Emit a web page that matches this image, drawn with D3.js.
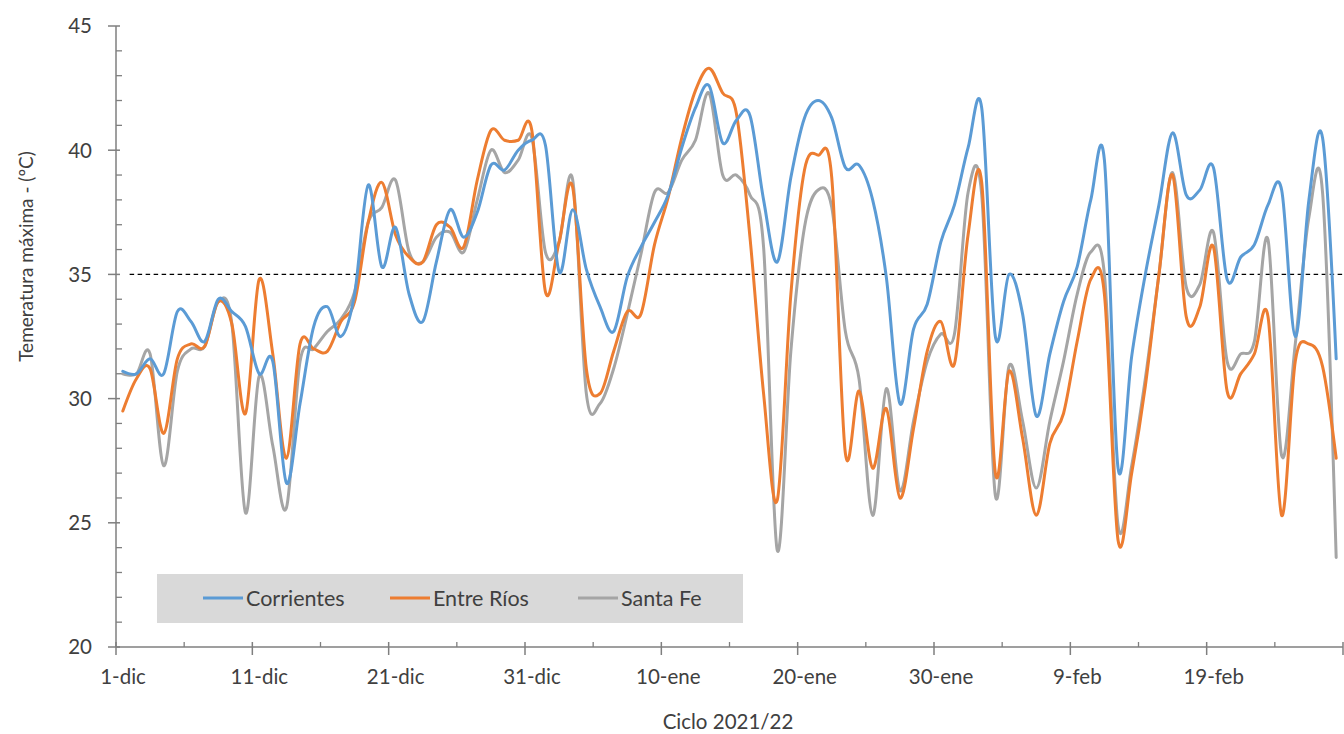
<!DOCTYPE html>
<html><head><meta charset="utf-8">
<script src="https://cdn.jsdelivr.net/npm/d3@7"></script>
<style>
html,body{margin:0;padding:0;background:#fff;}
svg{display:block;font-family:Lato,"Open Sans",sans-serif;}
</style></head>
<body><svg id="chart" width="1344" height="734"></svg>
<script>
// ---- data ----
const tickLabels = ["1-dic","11-dic","21-dic","31-dic","10-ene","20-ene","30-ene","9-feb","19-feb",""];
const seriesNames = ["Corrientes","Entre Ríos","Santa Fe"];
const corrientes = [31.1,31.0,31.6,31.0,33.5,33.1,32.3,34.0,33.5,32.9,31.0,31.5,26.6,29.8,32.9,33.7,32.5,34.2,38.6,35.3,36.9,34.2,33.1,35.5,37.6,36.5,37.5,39.4,39.2,40.0,40.4,40.2,35.1,37.6,35.2,33.7,32.7,34.9,36.1,37.1,38.2,40.1,41.7,42.6,40.3,41.2,41.4,38.0,35.5,38.9,41.3,42.0,41.3,39.3,39.4,38.0,34.9,29.8,32.8,33.8,36.3,37.8,40.1,41.7,32.5,35.0,33.4,29.3,31.8,33.9,35.3,38.0,39.6,27.2,31.7,35.0,37.8,40.7,38.2,38.4,39.3,34.8,35.7,36.2,37.8,38.4,32.5,38.0,40.5,31.6];
const entreRios = [29.5,30.8,31.2,28.6,31.6,32.2,32.1,33.9,33.0,29.4,34.8,31.8,27.6,32.2,32.0,31.9,33.1,33.9,37.1,38.7,36.6,35.7,35.5,37.0,36.9,36.1,38.8,40.8,40.4,40.4,40.8,34.3,36.3,38.5,31.2,30.2,31.9,33.5,33.4,36.2,38.1,40.5,42.4,43.3,42.3,41.5,36.5,30.2,25.9,34.2,39.2,39.8,38.9,27.8,30.3,27.2,29.6,26.0,28.8,31.9,33.1,31.4,36.6,38.7,27.0,31.1,28.4,25.3,28.2,29.4,32.3,34.8,34.2,24.3,27.0,30.5,35.0,39.0,33.3,33.7,36.1,30.3,31.0,31.8,33.3,25.3,31.5,32.2,31.3,27.6];
const santaFe = [31.0,31.0,31.8,27.3,31.1,32.0,32.1,33.9,33.0,25.4,30.9,28.1,25.6,31.5,32.0,32.7,33.2,34.3,37.1,37.7,38.8,35.9,35.5,36.5,36.7,35.9,38.0,40.0,39.1,39.6,40.5,35.9,36.3,38.8,30.2,29.8,31.2,33.4,35.8,38.3,38.3,39.6,40.4,42.3,39.0,39.0,38.2,36.1,23.9,31.9,36.9,38.4,37.7,32.7,30.8,25.3,30.4,26.3,29.1,31.5,32.6,32.6,38.3,38.2,26.1,31.3,29.1,26.4,29.1,31.5,34.2,35.9,35.0,24.9,27.3,30.8,35.0,39.1,34.5,34.6,36.7,31.5,31.8,32.3,36.4,27.7,32.2,37.3,38.3,23.6];
const threshold = 35;
const yTicks = [20,25,30,35,40,45];

// ---- layout ----
const svg = d3.select("#chart");
const pL = 116, pR = 1343, pT = 26, pB = 647;
const x = d3.scaleLinear().domain([0, 90]).range([pL, pR]);
const y = d3.scaleLinear().domain([20, 45]).range([pB, pT]);
const colors = ["#5B9BD5","#ED7D31","#A5A5A5"];
const axisColor = "#7f7f7f";
const textColor = "#404040";

// dashed threshold
svg.append("line")
  .attr("x1", x(1)).attr("x2", x(90))
  .attr("y1", y(threshold)).attr("y2", y(threshold))
  .attr("stroke", "#000").attr("stroke-width", 1.3)
  .attr("stroke-dasharray", "4.5,3.5");

// y axis
const yAxis = svg.append("g");
yAxis.append("line").attr("x1", pL).attr("x2", pL).attr("y1", y(45)).attr("y2", y(20))
  .attr("stroke", axisColor).attr("stroke-width", 1.5);
d3.range(21, 45).filter(v => v % 5 !== 0).forEach(v => {
  yAxis.append("line").attr("x1", pL).attr("x2", pL + 6).attr("y1", y(v)).attr("y2", y(v))
    .attr("stroke", axisColor).attr("stroke-width", 1.3);
});
yTicks.forEach(v => {
  yAxis.append("line").attr("x1", pL - 8).attr("x2", pL + 4).attr("y1", y(v)).attr("y2", y(v))
    .attr("stroke", axisColor).attr("stroke-width", 1.5);
  yAxis.append("text").attr("x", pL - 24).attr("y", y(v)).attr("dy", "0.36em")
    .attr("text-anchor", "end").attr("font-size", 20.5).attr("fill", textColor).text(v);
});

// x axis
const xAxis = svg.append("g");
xAxis.append("line").attr("x1", pL).attr("x2", pR).attr("y1", pB).attr("y2", pB)
  .attr("stroke", axisColor).attr("stroke-width", 1.5);
d3.range(5, 90, 10).forEach(d => {
  xAxis.append("line").attr("x1", x(d)).attr("x2", x(d)).attr("y1", pB).attr("y2", pB - 5)
    .attr("stroke", axisColor).attr("stroke-width", 1.3);
});
tickLabels.forEach((lab, i) => {
  const d = i * 10;
  xAxis.append("line").attr("x1", x(d)).attr("x2", x(d)).attr("y1", pB - 5).attr("y2", pB + 8)
    .attr("stroke", axisColor).attr("stroke-width", 1.5);
  if (lab) xAxis.append("text").attr("x", x(d) + 7).attr("y", pB + 37)
    .attr("text-anchor", "middle").attr("font-size", 20.5).attr("fill", textColor).text(lab);
});

// axis titles
svg.append("text").attr("transform", `translate(33,${(pT + pB) / 2 - 80}) rotate(-90)`)
  .attr("text-anchor", "middle").attr("font-size", 19).attr("fill", textColor)
  .text("Temeratura máxima - (ºC)");
svg.append("text").attr("x", 728).attr("y", 729)
  .attr("text-anchor", "middle").attr("font-size", 20.5).attr("fill", textColor)
  .text("Ciclo 2021/22");

// lines
const line = d3.line()
  .x((d, i) => x(i + 0.5))
  .y(d => y(d))
  .curve(d3.curveCardinal.tension(0));
[santaFe, entreRios, corrientes].forEach((s, k) => {
  const ci = [2, 1, 0][k];
  svg.append("path").datum(s).attr("d", line)
    .attr("fill", "none").attr("stroke", colors[ci]).attr("stroke-width", 3)
    .attr("stroke-linejoin", "round").attr("stroke-linecap", "round");
});

// legend
const lg = svg.append("g");
lg.append("rect").attr("x", 157).attr("y", 574).attr("width", 586).attr("height", 49).attr("fill", "#D9D9D9");
const legX = [203, 390, 578];
seriesNames.forEach((n, i) => {
  lg.append("line").attr("x1", legX[i]).attr("x2", legX[i] + 40).attr("y1", 598).attr("y2", 598)
    .attr("stroke", colors[i]).attr("stroke-width", 3);
  lg.append("text").attr("x", legX[i] + 43).attr("y", 598).attr("dy", "0.36em")
    .attr("font-size", 21.5).attr("fill", textColor).text(n);
});
</script></body></html>
